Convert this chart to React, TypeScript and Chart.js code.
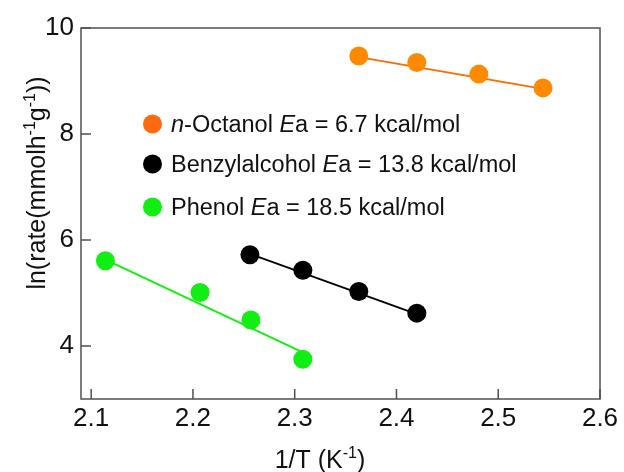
import React, { useEffect, useRef } from "react";
import { Chart, registerables } from "chart.js";

Chart.register(...registerables);

// ---- data ----
const octanolX = [2.363, 2.42, 2.481, 2.544];
const octanolY = [9.47, 9.35, 9.13, 8.87];
const benzylX = [2.256, 2.308, 2.363, 2.42];
const benzylY = [5.72, 5.43, 5.03, 4.62];
const phenolX = [2.114, 2.207, 2.257, 2.308];
const phenolY = [5.61, 5.01, 4.49, 3.75];

const octanolFitX = [2.363, 2.544];
const octanolFitY = [9.45, 8.85];
const benzylFitX = [2.256, 2.42];
const benzylFitY = [5.74, 4.6];
const phenolFitX = [2.114, 2.308];
const phenolFitY = [5.63, 3.88];

const xTicks = [2.1, 2.2, 2.3, 2.4, 2.5, 2.6];
const yTicks = [4, 6, 8, 10];

const nameItalicPrefix = ["n", "", ""];
const nameRest = ["-Octanol", "Benzylalcohol", "Phenol"];
const eaValues = ["6.7", "13.8", "18.5"];
const eaUnit = "kcal/mol";

const xTitle = [{ t: "1/T (K" }, { t: "-1", sup: true }, { t: ")" }];
const yTitle = [
  { t: "ln(rate(mmolh" },
  { t: "-1", sup: true },
  { t: "g" },
  { t: "-1", sup: true },
  { t: "))" },
];

// ---- styles ----
const FONT = '"Liberation Sans", Arial, Helvetica, sans-serif';
const ORANGE_DOT = "#FF8A00";
const ORANGE_LINE = "#FF6A00";
const ORANGE_LEGEND = "#FF6A10";
const BLACK = "#000000";
const GREEN = "#11EE11";
const FRAME = "#505050";

type Seg = { t: string; it?: boolean; sup?: boolean };

function segFont(s: Seg, size: number) {
  const sz = s.sup ? Math.round(size * 0.62) : size;
  return `${s.it ? "italic " : ""}${sz}px ${FONT}`;
}

function drawRich(
  ctx: CanvasRenderingContext2D,
  segs: Seg[],
  x: number,
  y: number,
  size: number,
  align: "left" | "center"
) {
  let total = 0;
  const widths: number[] = [];
  for (const s of segs) {
    ctx.font = segFont(s, size);
    const w = ctx.measureText(s.t).width;
    widths.push(w);
    total += w;
  }
  let cx = align === "center" ? x - total / 2 : x;
  ctx.textBaseline = "alphabetic";
  ctx.textAlign = "left";
  segs.forEach((s, i) => {
    ctx.font = segFont(s, size);
    ctx.fillText(s.t, cx, s.sup ? y - size * 0.4 : y);
    cx += widths[i];
  });
}

const decorPlugin = {
  id: "decor",
  beforeDatasetsDraw(chart: any) {
    const { ctx, chartArea } = chart;
    const { left, right, top, bottom } = chartArea;
    const xs = chart.scales.x;
    const ys = chart.scales.y;
    ctx.save();
    ctx.strokeStyle = FRAME;
    ctx.lineWidth = 1.5;
    ctx.strokeRect(left, top, right - left, bottom - top);
    ctx.beginPath();
    for (const v of xTicks) {
      const px = xs.getPixelForValue(v);
      ctx.moveTo(px, bottom);
      ctx.lineTo(px, bottom - 10);
    }
    for (const v of yTicks) {
      const py = ys.getPixelForValue(v);
      ctx.moveTo(left, py);
      ctx.lineTo(left + 10, py);
    }
    ctx.stroke();
    ctx.restore();
  },
  afterDraw(chart: any) {
    const { ctx } = chart;
    ctx.save();
    ctx.fillStyle = "#111111";
    // x title
    drawRich(ctx, xTitle, 320, 468, 25, "center");
    // y title
    ctx.save();
    ctx.translate(45, 183);
    ctx.rotate(-Math.PI / 2);
    drawRich(ctx, yTitle, 0, 0, 25, "center");
    ctx.restore();
    // legend
    const legendColors = [ORANGE_LEGEND, BLACK, GREEN];
    const rowsY = [124, 164, 207];
    for (let i = 0; i < 3; i++) {
      ctx.fillStyle = legendColors[i];
      ctx.beginPath();
      ctx.arc(152.5, rowsY[i], 9.5, 0, Math.PI * 2);
      ctx.fill();
      ctx.fillStyle = "#111111";
      const segs: Seg[] = [];
      if (nameItalicPrefix[i]) segs.push({ t: nameItalicPrefix[i], it: true });
      segs.push({ t: nameRest[i] + " " });
      segs.push({ t: "E", it: true });
      segs.push({ t: `a = ${eaValues[i]} ${eaUnit}` });
      drawRich(ctx, segs, 171, rowsY[i] + 8, 23.5, "left");
    }
    ctx.restore();
  },
};

function pts(xs: number[], ys: number[]) {
  return xs.map((x, i) => ({ x, y: ys[i] }));
}

export default function App() {
  const ref = useRef<HTMLCanvasElement | null>(null);
  useEffect(() => {
    if (!ref.current) return;
    const dot = (data: any, color: string) => ({
      type: "scatter" as const,
      data,
      showLine: false,
      pointRadius: 9.5,
      pointHoverRadius: 9.5,
      pointBackgroundColor: color,
      pointBorderColor: color,
      pointBorderWidth: 0,
      order: 0,
    });
    const fit = (data: any, color: string) => ({
      type: "line" as const,
      data,
      borderColor: color,
      borderWidth: 1.8,
      pointRadius: 0,
      fill: false,
      order: 1,
    });
    const tickFont = { family: FONT, size: 26 };
    const chart = new Chart(ref.current, {
      type: "scatter",
      data: {
        datasets: [
          dot(pts(octanolX, octanolY), ORANGE_DOT),
          dot(pts(benzylX, benzylY), BLACK),
          dot(pts(phenolX, phenolY), GREEN),
          fit(pts(octanolFitX, octanolFitY), ORANGE_LINE),
          fit(pts(benzylFitX, benzylFitY), BLACK),
          fit(pts(phenolFitX, phenolFitY), GREEN),
        ] as any,
      },
      options: {
        animation: false,
        responsive: false,
        devicePixelRatio: 1,
        layout: { padding: { left: 0, top: 28, right: 24, bottom: 0 } },
        plugins: { legend: { display: false }, tooltip: { enabled: false } },
        scales: {
          x: {
            type: "linear",
            min: 2.09,
            max: 2.6,
            afterBuildTicks: (s: any) => {
              s.ticks = xTicks.map((v) => ({ value: v }));
            },
            afterFit: (s: any) => {
              s.height = 73;
            },
            grid: { display: false, drawTicks: false },
            border: { display: false },
            ticks: {
              font: tickFont,
              color: "#111111",
              padding: 4,
              maxRotation: 0,
              autoSkip: false,
              callback: (v: any) => Number(v).toFixed(1),
            },
          },
          y: {
            type: "linear",
            min: 3,
            max: 10,
            afterBuildTicks: (s: any) => {
              s.ticks = yTicks.map((v) => ({ value: v }));
            },
            afterFit: (s: any) => {
              s.width = 81;
            },
            grid: { display: false, drawTicks: false },
            border: { display: false },
            ticks: {
              font: tickFont,
              color: "#111111",
              padding: 7,
              autoSkip: false,
              callback: (v: any) => String(v),
            },
          },
        },
      },
      plugins: [decorPlugin],
    });
    return () => chart.destroy();
  }, []);
  return (
    <div style={{ position: "absolute", left: 0, top: 0, width: 624, height: 472, background: "#fff" }}>
      <canvas ref={ref} width={624} height={472} style={{ display: "block" }} />
    </div>
  );
}
